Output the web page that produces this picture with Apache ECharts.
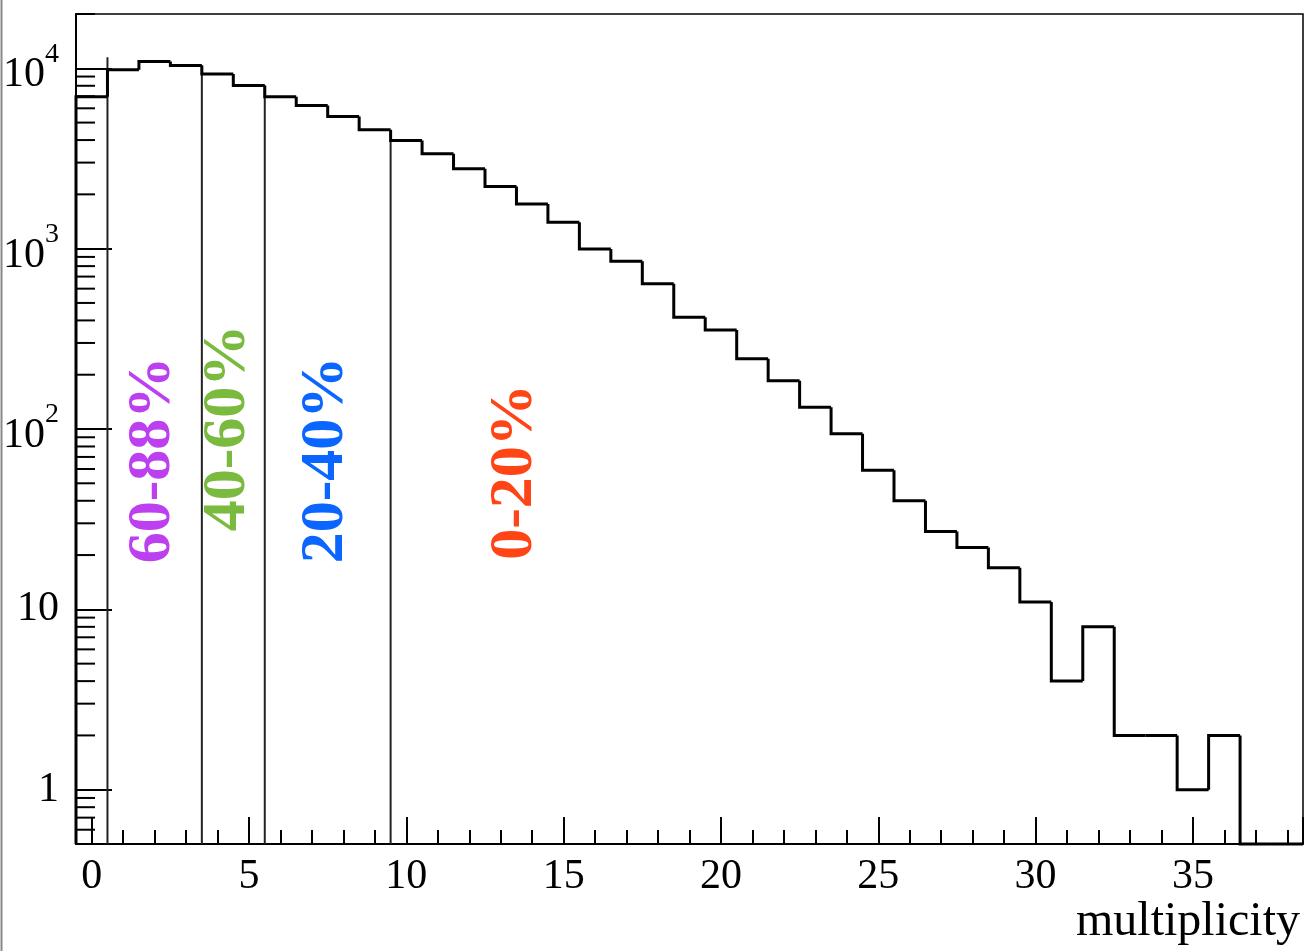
<!DOCTYPE html>
<html>
<head>
<meta charset="utf-8">
<script src="https://cdn.jsdelivr.net/npm/echarts@6/dist/echarts.min.js"></script>
<style>
  html, body { margin: 0; padding: 0; background: #fff; }
  #chart { width: 1306px; height: 951px; }
</style>
</head>
<body>
<div id="chart"></div>
<script>
// bin centres of the multiplicity histogram (bin width 1)
const binCenters = [0, 1, 2, 3, 4, 5, 6, 7, 8, 9, 10, 11, 12, 13, 14, 15, 16, 17, 18, 19,
  20, 21, 22, 23, 24, 25, 26, 27, 28, 29, 30, 31, 32, 33, 34, 35, 36, 37, 38]
// entries per bin
const counts = [6950, 9810, 10900, 10370, 9310, 8030, 6950, 6220, 5400, 4560,
  3980, 3355, 2770, 2210, 1770, 1400, 997, 851, 638, 417,
  354, 245, 185, 132, 94, 59, 40, 27, 22, 17,
  11, 4, 8, 2, 2, 1, 2, 0, 0]

// centrality cut lines
const cutX = [0.5, 3.5, 5.5, 9.5]
const cutTop = [11500, 10400, 8000, 4000]

// centrality class labels
const classNames = ['60-88%', '40-60%', '20-40%', '0-20%']
const classColors = ['#bd40f0', '#7aba3e', '#0a66ff', '#ff4416']
const classPos = [[153, 460], [228, 428], [326, 460], [515, 472]]

const X_MIN = -0.5
const X_MAX = 38.5
const Y_MIN = 0.5
const Y_MAX = 20000

// ROOT style minor ticks on the log axis (2..9 of each decade)
const minorTickVals = []
for (let e = -1; e <= 4; e++) {
  for (let m = 2; m <= 9; m++) {
    const v = m * Math.pow(10, e)
    if (v > Y_MIN && v <= Y_MAX) minorTickVals.push(v)
  }
}

const FONT = '"Liberation Serif", "Times New Roman", serif'

const chart = echarts.init(document.getElementById('chart'))

const yLabel = (val) => {
  const lg = Math.log10(val)
  const e = Math.round(lg)
  if (Math.abs(lg - e) > 1e-6) return ''
  if (e === 0) return '1'
  if (e === 1) return '10'
  return '{b|10}{s|' + e + '}'
}

const option = {
  animation: false,
  backgroundColor: '#fff',
  grid: {
    left: 75,
    right: 3,
    top: 14,
    bottom: 107,
    show: true,
    borderColor: '#000',
    borderWidth: 1.5
  },
  xAxis: {
    type: 'value',
    min: X_MIN,
    max: X_MAX,
    splitNumber: 8,
    axisLine: { show: true, onZero: false, lineStyle: { color: '#000', width: 2 } },
    axisTick: { show: true, inside: true, length: 27, lineStyle: { color: '#000', width: 2 } },
    minorTick: { show: true, splitNumber: 5, length: 14, lineStyle: { color: '#000', width: 2 } },
    splitLine: { show: false },
    minorSplitLine: { show: false },
    axisLabel: {
      show: true,
      showMinLabel: false,
      showMaxLabel: false,
      margin: 12,
      color: '#000',
      fontFamily: FONT,
      fontSize: 42,
      formatter: (v) => (Math.abs(v % 5) < 1e-6 ? String(v) : '')
    }
  },
  yAxis: {
    type: 'log',
    logBase: 10,
    min: Y_MIN,
    max: Y_MAX,
    axisLine: { show: true, onZero: false, lineStyle: { color: '#000', width: 2 } },
    axisTick: { show: true, inside: true, length: 36, lineStyle: { color: '#000', width: 2 } },
    splitLine: { show: false },
    axisLabel: {
      show: true,
      showMinLabel: false,
      showMaxLabel: false,
      margin: 17,
      color: '#000',
      fontFamily: FONT,
      fontSize: 42,
      formatter: yLabel,
      rich: {
        b: { fontFamily: FONT, fontSize: 42, color: '#000', padding: [14, 0, 0, 0] },
        s: { fontFamily: FONT, fontSize: 28, color: '#000', verticalAlign: 'top' }
      }
    }
  },
  series: [
    {
      // minor ticks of the log axis
      type: 'custom',
      silent: true,
      clip: false,
      data: minorTickVals.map(v => [X_MIN, v]),
      renderItem: (params, api) => {
        const p = api.coord([api.value(0), api.value(1)])
        return {
          type: 'line',
          shape: { x1: p[0], y1: p[1], x2: p[0] + 19, y2: p[1] },
          style: { stroke: '#000', lineWidth: 2 }
        }
      },
      z: 3
    },
    {
      // centrality cut lines
      type: 'custom',
      silent: true,
      data: cutX.map((x, i) => [x, cutTop[i]]),
      renderItem: (params, api) => {
        const top = api.coord([api.value(0), api.value(1)])
        const bot = api.coord([api.value(0), Y_MIN])
        return {
          type: 'line',
          shape: { x1: top[0], y1: top[1], x2: bot[0], y2: bot[1] },
          style: { stroke: '#222', lineWidth: 2 }
        }
      },
      z: 2
    },
    {
      // step histogram
      type: 'custom',
      silent: true,
      data: binCenters.map((x, i) => [x, counts[i]]),
      renderItem: (params, api) => {
        const i = params.dataIndex
        const x = api.value(0)
        const v = Math.max(api.value(1), Y_MIN)
        const prev = i > 0 ? Math.max(counts[i - 1], Y_MIN) : Y_MIN
        const p0 = api.coord([x - 0.5, prev])
        const p1 = api.coord([x - 0.5, v])
        const p2 = api.coord([x + 0.5, v])
        return {
          type: 'polyline',
          shape: { points: [p0, p1, p2] },
          style: { stroke: '#000', lineWidth: 3, fill: null, lineJoin: 'miter' }
        }
      },
      z: 4
    }
  ],
  graphic: [
    {
      type: 'line',
      shape: { x1: 1.5, y1: 0, x2: 1.5, y2: 951 },
      style: { stroke: '#888', lineWidth: 2 }
    },
    {
      type: 'text',
      x: 1300,
      y: 922,
      style: {
        text: 'multiplicity',
        font: '48px ' + FONT,
        fill: '#000',
        align: 'right',
        verticalAlign: 'middle'
      }
    }
  ].concat(classNames.map((name, i) => ({
    type: 'text',
    x: classPos[i][0],
    y: classPos[i][1],
    rotation: Math.PI / 2,
    style: {
      text: name,
      font: 'bold 62px ' + FONT,
      fill: classColors[i],
      align: 'center',
      verticalAlign: 'middle'
    }
  })))
}

chart.setOption(option)
window.addEventListener('resize', () => chart.resize())
</script>
</body>
</html>
